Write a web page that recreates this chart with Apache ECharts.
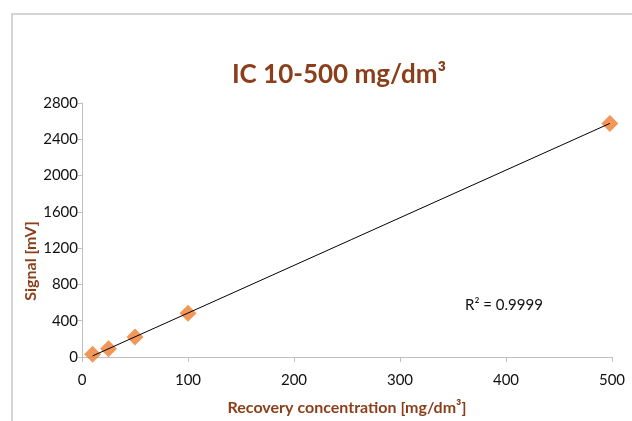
<!DOCTYPE html>
<html>
<head>
<meta charset="utf-8">
<script src="https://cdn.jsdelivr.net/npm/echarts@6/dist/echarts.min.js"></script>
<style>
  html, body { margin: 0; padding: 0; background: #fff; }
  #chart { width: 632px; height: 421px; }
</style>
</head>
<body>
<div id="chart"></div>
<script>
// measured points (recovery concentration vs signal)
const concentration = [10, 25, 50, 100, 498];
const signal = [30, 92, 220, 483, 2575];

// trendline end points
const trendX = [10, 498];
const trendY = [12, 2575];

const yTicks = [0, 400, 800, 1200, 1600, 2000, 2400, 2800];
const xTicks = [0, 100, 200, 300, 400, 500];

const rSquared = 'R\u00b2 = 0.9999';
const yName = 'Signal [mV]';

const brown = '#8a3f1a';
const orange = '#ee7d31';
const font = 'Lato, "Open Sans", sans-serif';

const chart = echarts.init(document.getElementById('chart'));

const option = {
  animation: false,
  textStyle: { fontFamily: font },
  title: {
    text: 'IC 10-500 mg/dm\u00b3',
    left: 334,
    top: 57,
    textAlign: 'center',
    textStyle: { color: brown, fontSize: 26, fontWeight: 'bold', fontFamily: font }
  },
  grid: { left: 82, right: 20, top: 103, bottom: 62 },
  xAxis: {
    type: 'value',
    min: xTicks[0],
    max: xTicks[xTicks.length - 1],
    interval: 100,
    name: 'Recovery concentration [mg/dm\u00b3]',
    nameLocation: 'middle',
    nameGap: 43,
    nameTextStyle: { color: brown, fontSize: 16, fontWeight: 'bold', fontFamily: font },
    axisLine: { lineStyle: { color: '#bfbfbf', width: 1 } },
    axisTick: { show: true, length: 5, lineStyle: { color: '#bfbfbf' } },
    axisLabel: { color: '#111', fontSize: 15, margin: 16, formatter: v => String(v) },
    splitLine: { show: false }
  },
  yAxis: {
    type: 'value',
    min: yTicks[0],
    max: yTicks[yTicks.length - 1],
    interval: 400,
    axisLine: { show: true, lineStyle: { color: '#bfbfbf', width: 1 } },
    axisTick: { show: true, length: 4, lineStyle: { color: '#bfbfbf' } },
    axisLabel: { color: '#111', fontSize: 15, margin: 4, formatter: v => String(v) },
    splitLine: { show: false }
  },
  graphic: [
    {
      type: 'rect',
      silent: true,
      shape: { x: 12, y: 14, width: 700, height: 500 },
      style: { fill: 'none', stroke: '#d4d4d4', lineWidth: 2 }
    },
    {
      type: 'text',
      x: 31,
      y: 261,
      rotation: Math.PI / 2,
      style: {
        text: yName, fill: brown, font: 'bold 16px ' + font,
        align: 'center', verticalAlign: 'middle'
      }
    },
    {
      type: 'text',
      left: 465,
      top: 298,
      style: { text: rSquared, fill: '#111', font: '15px ' + font }
    }
  ],
  series: [
    {
      type: 'line',
      data: trendX.map((x, i) => [x, trendY[i]]),
      symbol: 'none',
      lineStyle: { color: '#000', width: 1 },
      z: 3
    },
    {
      type: 'scatter',
      data: concentration.map((x, i) => [x, signal[i]]),
      symbol: 'diamond',
      symbolSize: [17, 17],
      itemStyle: { color: orange },
      z: 2
    }
  ]
};

chart.setOption(option);
</script>
</body>
</html>
